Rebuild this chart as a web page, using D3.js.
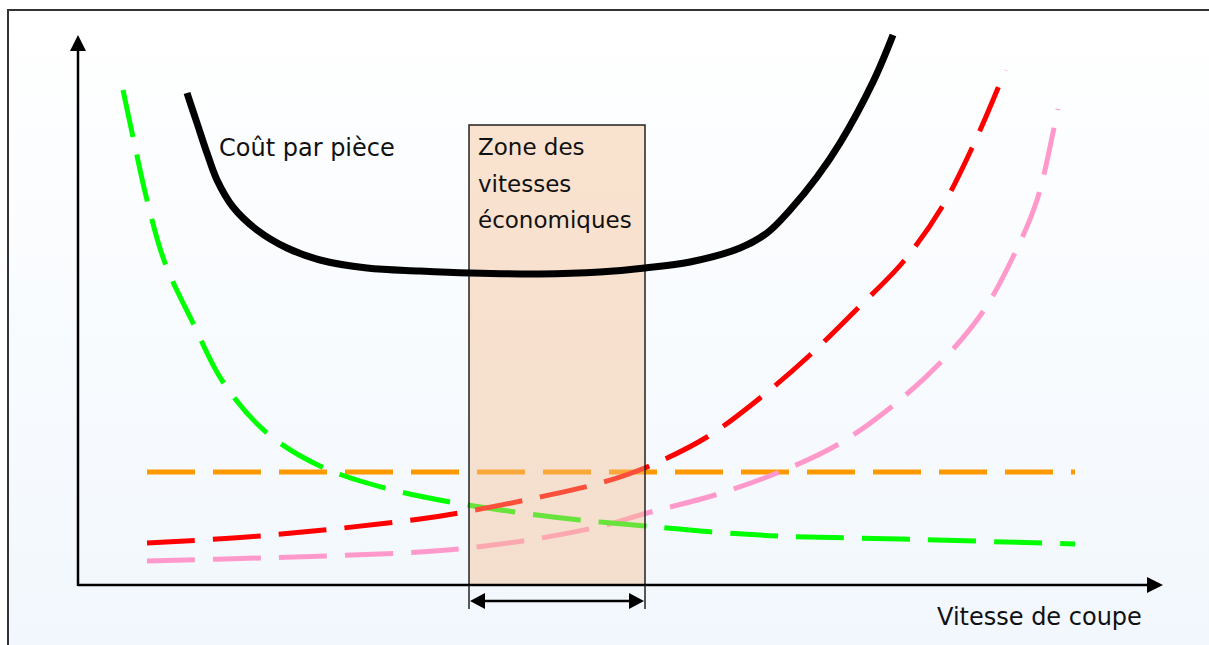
<!DOCTYPE html>
<html>
<head>
<meta charset="utf-8">
<script src="https://cdn.jsdelivr.net/npm/d3@7"></script>
<style>
  html, body { margin: 0; padding: 0; background: #ffffff; }
  svg { display: block; }
  text { font-family: "DejaVu Sans", "Noto Sans", sans-serif; fill: #111; }
</style>
</head>
<body>
<svg id="chart" width="1209" height="645"></svg>
<script>
// ---- Data (arbitrary units) ----
const coutX   = [109,119,129,139,155,179,209,242,289,342,392,462,522,567,612,662,689,712,739,762,795,815];
const coutY   = [492,462,432,405,378,355,337,325,317,314,312,311,313,317,323,337,352,375,408,442,503,550];

const greenX  = [45,55,69,87,115,145,189,244,307,372,437,502,567,634,700,822,997];
const greenY  = [495,448,385,322,262,203,152,118,97,83,73,65,59,53,49,46,41];

const redX    = [69,182,342,397,462,526,569,629,682,732,780,825,864,894,920,927];
const redY    = [42,49,66,75,88,103,118,148,187,230,277,323,378,437,497,515];

const pinkX   = [69,182,342,399,463,528,569,637,699,759,812,862,904,935,959,976,980];
const pinkY   = [24,27,33,38,47,60,72,90,112,140,177,222,272,328,385,457,476];

const orangeX = [69,997];
const orangeY = [113,113];

const zoneX   = [391,567];
const zoneTop = 460;

const labelCout  = "Coût par pièce";
const labelZone  = ["Zone des", "vitesses", "économiques"];
const labelAxisX = "Vitesse de coupe";

// ---- Layout ----
const svg = d3.select("#chart");
const x = d3.scaleLinear().domain([0, 1085]).range([78, 1163]);
const y = d3.scaleLinear().domain([0, 550]).range([585, 35]);

// background gradient + frame
const defs = svg.append("defs");
const grad = defs.append("linearGradient").attr("id","bg").attr("x1",0).attr("y1",0).attr("x2",0).attr("y2",1);
grad.append("stop").attr("offset","0%").attr("stop-color","#ffffff");
grad.append("stop").attr("offset","100%").attr("stop-color","#f1f7fd");
svg.append("rect").attr("x",8).attr("y",10).attr("width",1230).attr("height",660)
   .attr("fill","url(#bg)").attr("stroke","#333").attr("stroke-width",2);

const pts = (xs, ys) => xs.map((d,i) => [d, ys[i]]);
const line = d3.line().x(d => x(d[0])).y(d => y(d[1])).curve(d3.curveCatmullRom.alpha(0.5));

const dashed = [
  {xs: orangeX, ys: orangeY, color: "#ff9900"},
  {xs: pinkX,   ys: pinkY,   color: "#ff99cc"},
  {xs: greenX,  ys: greenY,  color: "#00ff00"},
  {xs: redX,    ys: redY,    color: "#ff0000"}
];
svg.append("g").selectAll("path").data(dashed).join("path")
  .attr("d", d => line(pts(d.xs, d.ys)))
  .attr("fill","none")
  .attr("stroke", d => d.color)
  .attr("stroke-width", 5)
  .attr("stroke-dasharray", "48,18");

// zone rectangle (semi-transparent)
svg.append("rect")
  .attr("x", x(zoneX[0])).attr("y", y(zoneTop))
  .attr("width", x(zoneX[1]) - x(zoneX[0]))
  .attr("height", y(0) - y(zoneTop))
  .attr("fill", "rgba(245,188,140,0.42)")
  .attr("stroke", "#222").attr("stroke-width", 1.5);

// black cost curve
svg.append("path")
  .attr("d", line(pts(coutX, coutY)))
  .attr("fill","none").attr("stroke","#000").attr("stroke-width",7)
  .attr("stroke-linecap","butt");

// axes
const gx = svg.append("g").attr("transform", `translate(0,${y(0)})`)
  .call(d3.axisBottom(x).ticks(0).tickSizeOuter(0));
gx.select(".domain").attr("stroke","#000").attr("stroke-width",2.5)
  .attr("d", `M${x(0)},0H${x(1085)-12}`);
const gy = svg.append("g").attr("transform", `translate(${x(0)},0)`)
  .call(d3.axisLeft(y).ticks(0).tickSizeOuter(0));
gy.select(".domain").attr("stroke","#000").attr("stroke-width",2.5)
  .attr("d", `M0,${y(0)+1}V${y(550)+12}`);

// arrow heads
const tri = (p) => "M" + p.map(q => q.join(",")).join("L") + "Z";
svg.append("path").attr("d", tri([[x(1085), y(0)], [x(1085)-16, y(0)-8], [x(1085)-16, y(0)+8]])).attr("fill","#000");
svg.append("path").attr("d", tri([[x(0), y(550)], [x(0)-8, y(550)+16], [x(0)+8, y(550)+16]])).attr("fill","#000");

// zone width marker below axis
const za = x(zoneX[0]), zb = x(zoneX[1]), ay = y(0) + 16;
svg.append("line").attr("x1",za).attr("x2",za).attr("y1",y(0)).attr("y2",y(0)+24).attr("stroke","#222").attr("stroke-width",1.5);
svg.append("line").attr("x1",zb).attr("x2",zb).attr("y1",y(0)).attr("y2",y(0)+24).attr("stroke","#222").attr("stroke-width",1.5);
svg.append("line").attr("x1",za+12).attr("x2",zb-12).attr("y1",ay).attr("y2",ay).attr("stroke","#000").attr("stroke-width",2.5);
svg.append("path").attr("d", tri([[za+1, ay], [za+16, ay-8], [za+16, ay+8]])).attr("fill","#000");
svg.append("path").attr("d", tri([[zb-1, ay], [zb-16, ay-8], [zb-16, ay+8]])).attr("fill","#000");

// texts
svg.append("text").attr("x",219).attr("y",156).attr("font-size",24).text(labelCout);
svg.append("g").selectAll("text").data(labelZone).join("text")
  .attr("x", za + 9).attr("y", (d,i) => 155 + i*36.5).attr("font-size",23).text(d => d);
svg.append("text").attr("x",937).attr("y",625).attr("font-size",24).text(labelAxisX);
</script>
</body>
</html>
